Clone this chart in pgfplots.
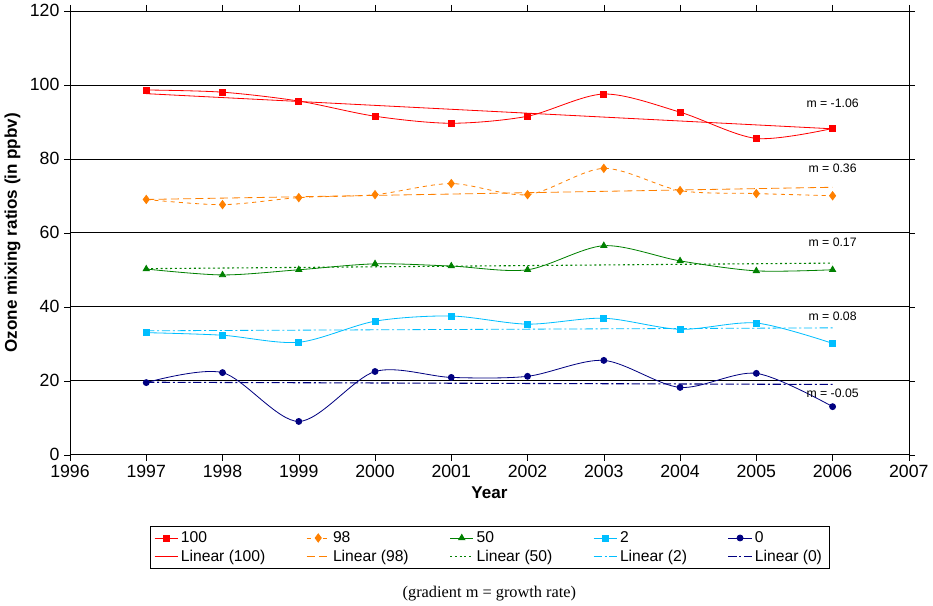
\documentclass[border=0pt]{standalone}
\usepackage{pgfplots}
\pgfplotsset{compat=1.18}
\usepackage{fontspec}
\setmainfont{Liberation Sans}
\newfontfamily\serif{Liberation Serif}
\definecolor{cR}{RGB}{255,0,0}
\definecolor{cO}{RGB}{255,128,0}
\definecolor{cG}{RGB}{0,128,0}
\definecolor{cC}{RGB}{0,190,255}
\definecolor{cN}{RGB}{0,0,128}
\begin{document}
\begin{tikzpicture}
\begin{axis}[
 scale only axis, width=616pt, height=326pt,
 xmin=1996, xmax=2007, ymin=0, ymax=120,
 xtick={1996,...,2007}, ytick={0,20,...,120},
 xticklabel style={/pgf/number format/1000 sep={}},
 /pgf/number format/assume math mode=true,
 ymajorgrids, grid style={black,thin},
 tick align=outside, tick style={black},
 axis line style={black},
 ticklabel style={font=\fontsize{13}{13}\selectfont},
 xlabel={\bfseries Year}, ylabel={\bfseries Ozone mixing ratios (in ppbv)},
 label style={font=\fontsize{12.5}{12.5}\selectfont},
 legend columns=5,
 legend style={at={(0.5,-0.16)},anchor=north,font=\fontsize{11.5}{11.5}\selectfont,
   draw=black, /tikz/every even column/.append style={column sep=28pt}},
 legend cell align=left,
 every axis plot/.append style={semithick},
]
\addplot[color=cR,smooth,tension=0.5,mark=square*,mark size=2.2pt] coordinates {(1997,98.6)(1998,98)(1999,95.6)(2000,91.5)(2001,89.6)(2002,91.5)(2003,97.5)(2004,92.6)(2005,85.5)(2006,88.2)};
\addlegendentry{100}
\addplot[color=cO,dashed,smooth,tension=0.5,mark=diamond*,mark size=3pt,mark options={solid}] coordinates {(1997,69)(1998,67.6)(1999,69.5)(2000,70.3)(2001,73.3)(2002,70.3)(2003,77.4)(2004,71.4)(2005,70.6)(2006,70)};
\addlegendentry{98}
\addplot[color=cG,smooth,tension=0.5,mark=triangle*,mark size=2.6pt] coordinates {(1997,50.2)(1998,48.6)(1999,50)(2000,51.6)(2001,51)(2002,50)(2003,56.5)(2004,52.4)(2005,49.7)(2006,50)};
\addlegendentry{50}
\addplot[color=cC,smooth,tension=0.5,mark=square*,mark size=2.2pt] coordinates {(1997,33)(1998,32.3)(1999,30.4)(2000,36.1)(2001,37.5)(2002,35.3)(2003,36.9)(2004,33.9)(2005,35.6)(2006,30.1)};
\addlegendentry{2}
\addplot[color=cN,smooth,tension=0.5,mark=*,mark size=2.2pt] coordinates {(1997,19.5)(1998,22.2)(1999,9)(2000,22.5)(2001,20.9)(2002,21.2)(2003,25.5)(2004,18.2)(2005,22)(2006,13)};
\addlegendentry{0}
\addplot[color=cR,no marks] coordinates {(1997,97.6)(2006,88.1)};
\addlegendentry{Linear (100)}
\addplot[color=cO,no marks,dash pattern=on 6pt off 3pt] coordinates {(1997,69)(2006,72.3)};
\addlegendentry{Linear (98)}
\addplot[color=cG,no marks,thick,dash pattern=on 1.5pt off 2pt] coordinates {(1997,50.3)(2006,51.8)};
\addlegendentry{Linear (50)}
\addplot[color=cC,no marks,dash pattern=on 6pt off 2pt on 1.5pt off 2pt] coordinates {(1997,33.5)(2006,34.3)};
\addlegendentry{Linear (2)}
\addplot[color=cN,no marks,thick,dash pattern=on 6pt off 2pt on 1.5pt off 2pt] coordinates {(1997,19.6)(2006,19.0)};
\addlegendentry{Linear (0)}
\begin{scope}[font=\fontsize{9}{9}\selectfont]
\node at (axis cs:2006.0,95) {m = -1.06};
\node at (axis cs:2006.0,77.5) {m = 0.36};
\node at (axis cs:2006.0,57.5) {m = 0.17};
\node at (axis cs:2006.0,37.5) {m = 0.08};
\node at (axis cs:2006.0,16.5) {m = -0.05};
\end{scope}
\coordinate (cap) at (axis cs:2001.5,0);
\end{axis}
\node[font=\serif\fontsize{12}{12}\selectfont] at ([yshift=-102pt]cap) {(gradient m = growth rate)};
\end{tikzpicture}
\end{document}
